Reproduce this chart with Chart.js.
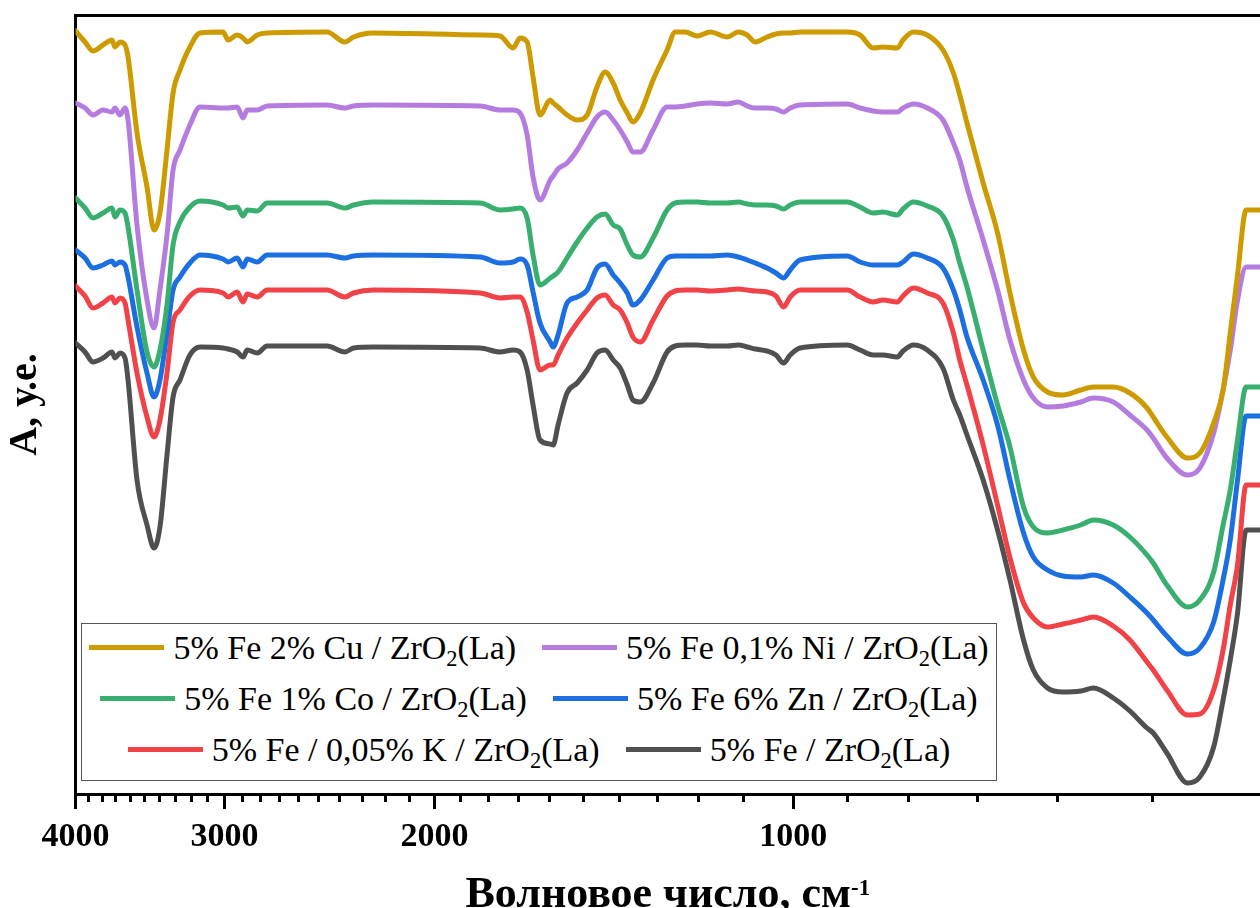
<!DOCTYPE html>
<html>
<head>
<meta charset="utf-8">
<script src="https://cdn.jsdelivr.net/npm/chart.js@4.4.1/dist/chart.umd.min.js"></script>
<style>
html,body{margin:0;padding:0;background:#fff;overflow:hidden}
#wrap{position:relative;width:1260px;height:908px;overflow:hidden}
canvas{display:block}
#legend{position:absolute;left:81px;top:623px;width:916px;height:158px;box-sizing:border-box;border:1.5px solid #555;background:#fff;font-family:'Liberation Serif','Times New Roman',serif;font-size:34px;color:#000}
#legend .rows{margin-top:-2px}
#legend .row{display:flex;justify-content:center;align-items:center;height:51px;white-space:nowrap}
#legend .item{display:flex;align-items:center;margin:0 13px}
#legend .sw{width:75px;height:5px;margin-right:9px;flex:none}
#legend sub{font-size:0.66em;vertical-align:-0.3em;line-height:0}
#xtitle{position:absolute;left:75.5px;width:1184.5px;top:871px;height:44px;line-height:44px;text-align:center;font-family:'Liberation Serif','Times New Roman',serif;font-weight:bold;font-size:44px;color:#000;white-space:nowrap}
#xtitle sup{font-size:0.52em;vertical-align:0.52em;line-height:0}
</style>
</head>
<body>
<div id="wrap">
  <canvas id="c" width="1260" height="908"></canvas>
  <div id="legend"><div class="rows"></div></div>
  <div id="xtitle">Волновое число, см<sup>-1</sup></div>
</div>
<script>
// ---- DATA ----
const WAVENUMBERS = [4000,3927,3867,3793,3728,3706,3671,3635,3614,3552,3484,3437,3398,3352,3313,3269,3207,3145,3008,2979,2927,2894,2871,2816,2763,2461,2377,2338,2251,1831,1762,1718,1695,1672,1653,1631,1599,1590,1575,1548,1518,1489,1461,1438,1416,1397,1378,1363,1344,1311,1276,1256,1232,1204,1174,1136,1112,1093,1076,1052,1034,1019,1006,987,901,879,857,841,818,809,793,772,749,734,725,715,693,674,658,641,629,612,594,574,560,539,522,505,499,486,467,456,444,436,430,424,417,406];

const FE_CU = [7.63,7.52,7.43,7.49,7.54,7.47,7.52,7.49,7.37,6.61,
6.07,5.64,5.81,6.44,7.01,7.24,7.47,7.61,7.62,7.54,
7.59,7.56,7.52,7.59,7.61,7.62,7.52,7.57,7.61,7.59,
7.58,7.46,7.56,7.52,7.17,6.79,6.94,6.91,6.87,6.79,
6.74,6.79,7.07,7.22,7.11,6.94,6.81,6.72,6.81,7.14,
7.44,7.62,7.62,7.58,7.62,7.57,7.62,7.59,7.52,7.57,
7.60,7.61,7.61,7.62,7.62,7.59,7.46,7.47,7.46,7.54,
7.62,7.59,7.44,7.21,6.99,6.71,6.11,5.61,5.01,4.44,
4.17,4.02,3.99,4.04,4.07,4.07,4.01,3.86,3.77,3.57,
3.36,3.41,3.71,4.04,4.61,5.19,5.84,5.84];

const FE_NI = [6.91,6.86,6.79,6.84,6.82,6.86,6.79,6.86,6.74,5.69,
4.94,4.66,5.04,5.59,6.24,6.44,6.69,6.87,6.86,6.86,
6.87,6.76,6.84,6.84,6.88,6.89,6.86,6.88,6.89,6.88,
6.84,6.84,6.81,6.59,6.17,5.94,6.14,6.18,6.25,6.31,
6.44,6.61,6.77,6.82,6.74,6.64,6.52,6.42,6.42,6.64,
6.87,6.87,6.88,6.90,6.91,6.90,6.92,6.88,6.86,6.86,
6.85,6.82,6.86,6.89,6.90,6.86,6.83,6.82,6.82,6.86,
6.90,6.86,6.74,6.51,6.34,6.07,5.54,5.04,4.54,4.14,
3.96,3.87,3.88,3.92,3.96,3.92,3.79,3.64,3.56,3.36,
3.19,3.26,3.61,4.04,4.44,4.94,5.27,5.27];

const FE_CO = [5.96,5.86,5.76,5.81,5.86,5.77,5.84,5.81,5.67,5.04,
4.42,4.27,4.44,4.89,5.49,5.72,5.87,5.93,5.89,5.86,
5.87,5.78,5.84,5.83,5.91,5.91,5.86,5.89,5.92,5.91,
5.84,5.85,5.86,5.76,5.39,5.09,5.16,5.18,5.22,5.36,
5.52,5.66,5.77,5.80,5.69,5.65,5.49,5.39,5.37,5.56,
5.84,5.91,5.92,5.92,5.91,5.91,5.92,5.90,5.89,5.89,
5.88,5.85,5.89,5.92,5.92,5.87,5.81,5.82,5.79,5.85,
5.92,5.88,5.78,5.54,5.31,5.07,4.44,3.89,3.47,2.87,
2.67,2.61,2.64,2.69,2.74,2.69,2.57,2.39,2.31,2.09,
1.87,1.94,2.22,2.69,3.04,3.54,4.07,4.07];

const FE_ZN = [5.44,5.36,5.26,5.29,5.33,5.29,5.32,5.29,5.17,4.67,
4.21,3.97,4.14,4.61,5.04,5.17,5.31,5.39,5.35,5.32,
5.36,5.27,5.35,5.32,5.39,5.39,5.36,5.38,5.39,5.37,
5.31,5.32,5.35,5.29,5.02,4.71,4.52,4.47,4.59,4.91,
4.97,5.04,5.26,5.30,5.19,5.11,5.01,4.89,4.94,5.14,
5.36,5.38,5.38,5.38,5.38,5.39,5.37,5.34,5.31,5.26,
5.21,5.16,5.24,5.34,5.38,5.32,5.29,5.29,5.29,5.32,
5.40,5.36,5.26,5.04,4.84,4.57,4.14,3.69,3.14,2.61,
2.37,2.24,2.18,2.17,2.19,2.11,1.97,1.81,1.74,1.58,
1.40,1.46,1.72,2.14,2.54,3.14,3.78,3.78];

const FE_K = [5.08,4.98,4.86,4.91,4.97,4.91,4.96,4.91,4.74,4.21,
3.77,3.57,3.74,4.21,4.72,4.84,4.98,5.04,5.01,4.97,
5.02,4.92,5.00,4.97,5.04,5.04,4.97,5.01,5.04,5.01,
4.96,4.97,4.97,4.82,4.54,4.24,4.29,4.29,4.39,4.56,
4.71,4.84,4.96,4.99,4.89,4.84,4.71,4.57,4.52,4.74,
4.98,5.03,5.04,5.04,5.03,5.04,5.05,5.04,5.03,5.02,
4.98,4.87,4.97,5.04,5.04,4.97,4.92,4.94,4.92,4.98,
5.06,5.01,4.91,4.61,4.34,4.09,3.49,2.89,2.36,1.91,
1.76,1.67,1.70,1.74,1.77,1.68,1.54,1.32,1.24,1.04,
0.79,0.80,1.04,1.44,1.89,2.29,3.09,3.09];

const FE_ONLY = [4.51,4.42,4.32,4.36,4.42,4.36,4.41,4.36,4.14,3.14,
2.69,2.46,2.67,3.39,3.97,4.14,4.39,4.47,4.46,4.45,
4.42,4.37,4.44,4.41,4.48,4.48,4.42,4.46,4.47,4.46,
4.42,4.44,4.42,4.24,3.89,3.54,3.50,3.49,3.69,4.01,
4.11,4.24,4.41,4.44,4.34,4.26,4.09,3.94,3.92,4.11,
4.42,4.48,4.49,4.49,4.48,4.48,4.49,4.47,4.45,4.43,
4.39,4.31,4.39,4.46,4.49,4.44,4.39,4.39,4.37,4.43,
4.49,4.44,4.26,3.94,3.79,3.59,3.14,2.64,2.14,1.54,
1.24,1.06,1.02,1.03,1.06,0.96,0.83,0.66,0.61,0.41,
0.11,0.17,0.47,0.94,1.34,1.81,2.64,2.64];

const SERIES_NAMES = [
  "5% Fe 2% Cu / ZrO2(La)",
  "5% Fe 0,1% Ni / ZrO2(La)",
  "5% Fe 1% Co / ZrO2(La)",
  "5% Fe 6% Zn / ZrO2(La)",
  "5% Fe / 0,05% K / ZrO2(La)",
  "5% Fe / ZrO2(La)"
];
const SERIES_VALUES = [FE_CU, FE_NI, FE_CO, FE_ZN, FE_K, FE_ONLY];
const SERIES_COLORS = ["#CD9B00","#B57CE0","#38AF6E","#1C6FE0","#F04247","#505050"];

const MAJOR_TICKS = [4000, 3000, 2000, 1000];
const MINOR_TICKS = [3900,3800,3700,3600,3500,3400,3300,3200,3100,
                     2900,2800,2700,2600,2500,2400,2300,2200,2100,
                     1900,1800,1700,1600,1500,1400,1300,1200,1100,
                     900,800,700,600,500];
const X_MAX = 4000, X_MIN = 406;
const Y_MIN = 0, Y_MAX = 7.79;
const Y_TITLE = "А, у.е.";

// ---- CHART ----
const FONT = "'Liberation Serif','Times New Roman',serif";

const datasets = SERIES_NAMES.map((name, i) => ({
  label: name,
  data: WAVENUMBERS.map((w, j) => ({x: w, y: SERIES_VALUES[i][j]})),
  borderColor: SERIES_COLORS[i],
  backgroundColor: SERIES_COLORS[i],
  borderWidth: 5,
  pointRadius: 0,
  fill: false,
  cubicInterpolationMode: 'monotone',
  borderJoinStyle: 'round',
  borderCapStyle: 'round'
}));

const logX = (extra) => Object.assign({
  type: 'logarithmic', reverse: true, min: X_MIN, max: X_MAX
}, extra);

new Chart(document.getElementById('c'), {
  type: 'line',
  data: { datasets },
  options: {
    responsive: false,
    maintainAspectRatio: false,
    animation: false,
    events: [],
    layout: { padding: { top: 15, right: 0, left: 0, bottom: 0 } },
    plugins: { legend: { display: false }, tooltip: { enabled: false }, title: { display: false } },
    scales: {
      xMinor: logX({
        position: 'bottom', weight: 0,
        afterBuildTicks: s => { s.ticks = MINOR_TICKS.map(v => ({value: v})); },
        afterFit: s => { s.height = 0; },
        ticks: { display: false, autoSkip: false },
        grid: { drawOnChartArea: false, drawTicks: true, tickLength: 8, tickWidth: 3, tickColor: '#000' },
        border: { display: false }
      }),
      x: logX({
        position: 'bottom', weight: 1,
        afterBuildTicks: s => { s.ticks = MAJOR_TICKS.map(v => ({value: v})); },
        afterFit: s => { s.height = 114; },
        ticks: { autoSkip: false, maxRotation: 0, padding: 8, color: '#000',
                 font: { family: FONT, size: 34, weight: 'bold' },
                 callback: v => String(v) },
        grid: { drawOnChartArea: false, drawTicks: true, tickLength: 15, tickWidth: 3, tickColor: '#000' },
        border: { display: true, color: '#000', width: 3 }
      }),
      xTop: logX({
        position: 'top',
        afterBuildTicks: s => { s.ticks = []; },
        afterFit: s => { s.height = 0; },
        ticks: { display: false },
        grid: { drawOnChartArea: false, drawTicks: false },
        border: { display: true, color: '#000', width: 3 }
      }),
      y: {
        type: 'linear', position: 'left', min: Y_MIN, max: Y_MAX,
        afterFit: s => { s.width = 75.5; },
        ticks: { display: false },
        grid: { drawOnChartArea: false, drawTicks: false },
        border: { display: true, color: '#000', width: 3 },
        title: { display: true, text: Y_TITLE, color: '#000', padding: { top: 2, bottom: 0 },
                 font: { family: FONT, size: 40, weight: 'bold' } }
      }
    }
  }
});

// ---- HTML legend (for the ZrO2 subscripts) ----
const rowsEl = document.querySelector('#legend .rows');
for (let r = 0; r < SERIES_NAMES.length; r += 2) {
  const row = document.createElement('div');
  row.className = 'row';
  for (let i = r; i < Math.min(r + 2, SERIES_NAMES.length); i++) {
    const item = document.createElement('div');
    item.className = 'item';
    const sw = document.createElement('span');
    sw.className = 'sw';
    sw.style.background = SERIES_COLORS[i];
    const tx = document.createElement('span');
    tx.innerHTML = SERIES_NAMES[i].replace('ZrO2', 'ZrO<sub>2</sub>');
    item.appendChild(sw); item.appendChild(tx);
    row.appendChild(item);
  }
  rowsEl.appendChild(row);
}
</script>
</body>
</html>
